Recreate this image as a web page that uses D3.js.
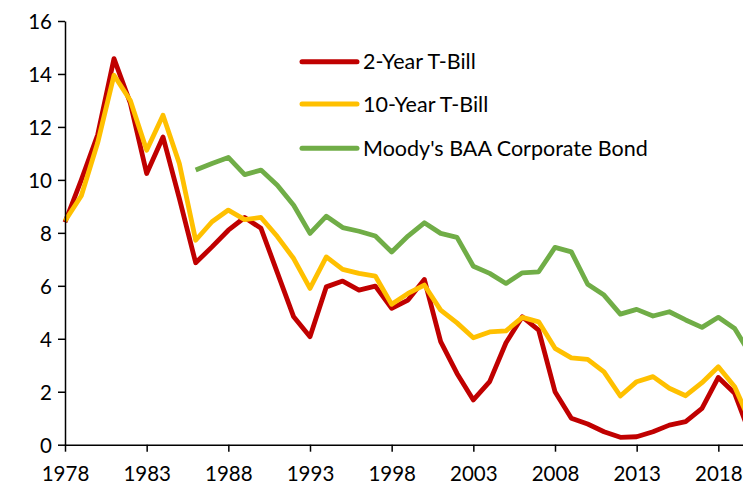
<!DOCTYPE html>
<html>
<head>
<meta charset="utf-8">
<script src="https://cdn.jsdelivr.net/npm/d3@7"></script>
<style>
  body { margin: 0; background: #fff; }
  svg { display: block; font-family: Lato, "Open Sans", sans-serif; }
</style>
</head>
<body>
<svg id="chart" width="743" height="485"></svg>
<script>
// years 1978..2020 (2020 is cut off by the right edge)
const years = d3.range(1978, 2021);

const twoYear = [8.4, 10.0, 11.7, 14.58, 12.9, 10.24, 11.62, 9.3, 6.87, 7.47,
  8.1, 8.58, 8.17, 6.5, 4.83, 4.08, 5.96, 6.18, 5.84, 5.99,
  5.15, 5.46, 6.24, 3.89, 2.69, 1.69, 2.38, 3.85, 4.83, 4.33,
  2.0, 1.0, 0.78, 0.49, 0.28, 0.3, 0.49, 0.74, 0.87, 1.37,
  2.54, 1.94, 0.3];

const tenYear = [8.45, 9.4, 11.4, 13.95, 13.0, 11.12, 12.44, 10.62, 7.72, 8.42,
  8.86, 8.5, 8.58, 7.86, 7.03, 5.9, 7.09, 6.62, 6.47, 6.37,
  5.3, 5.71, 6.03, 5.08, 4.6, 4.04, 4.26, 4.3, 4.81, 4.64,
  3.64, 3.28, 3.22, 2.75, 1.84, 2.38, 2.57, 2.13, 1.85, 2.34,
  2.94, 2.19, 0.8];

// Moody's series starts in 1986
const baaYears = d3.range(1986, 2021);
const baa = [10.37, 10.62, 10.85, 10.2, 10.37, 9.8, 9.04, 7.98, 8.63, 8.2,
  8.06, 7.88, 7.28, 7.88, 8.38, 7.98, 7.83, 6.74, 6.47, 6.09,
  6.49, 6.53, 7.45, 7.28, 6.06, 5.65, 4.93, 5.11, 4.86, 5.02,
  4.71, 4.43, 4.81, 4.39, 3.38];

const seriesNames = ["2-Year T-Bill", "10-Year T-Bill", "Moody's BAA Corporate Bond"];
const seriesColors = ["#C00000", "#FFC000", "#70AD47"];
const xTicks = d3.range(1978, 2019, 5);
const yTicks = d3.range(0, 17, 2);

const svg = d3.select("#chart");
const margin = { left: 65, top: 21, bottom: 40 };

const xScale = d3.scaleLinear().domain([1978, 2020]).range([margin.left, 751]);
const yScale = d3.scaleLinear().domain([0, 16]).range([444.7, margin.top]);

const series = [
  years.map((y, i) => [y, twoYear[i]]),
  years.map((y, i) => [y, tenYear[i]]),
  baaYears.map((y, i) => [y, baa[i]])
];

const line = d3.line()
  .x(d => xScale(d[0]))
  .y(d => yScale(d[1]));

series.forEach((s, i) => {
  svg.append("path")
    .datum(s)
    .attr("fill", "none")
    .attr("stroke", seriesColors[i])
    .attr("stroke-width", 4.8)
    .attr("stroke-linejoin", "round")
    .attr("d", line);
});

// axes
const yAxis = svg.append("g")
  .attr("transform", `translate(${margin.left},0)`)
  .call(d3.axisLeft(yScale).tickValues(yTicks).tickSize(7).tickPadding(6).tickSizeOuter(0));

const xAxis = svg.append("g")
  .attr("transform", `translate(0,${yScale(0)})`)
  .call(d3.axisBottom(xScale).tickValues(xTicks).tickFormat(d3.format("d"))
    .tickSize(7).tickPadding(15).tickSizeOuter(0));

[yAxis, xAxis].forEach(ax => {
  ax.selectAll("path, line").attr("stroke", "#000").attr("stroke-width", 1.5);
  ax.selectAll("text").attr("fill", "#000").style("font-size", "20.5px")
    .style("font-family", "Lato, 'Open Sans', sans-serif");
});
yAxis.selectAll("text").attr("dy", "0.36em");

// legend
const legendY = [61.7, 104, 148.3];
const legend = svg.append("g");
seriesNames.forEach((name, i) => {
  legend.append("line")
    .attr("x1", 302).attr("x2", 357)
    .attr("y1", legendY[i]).attr("y2", legendY[i])
    .attr("stroke", seriesColors[i])
    .attr("stroke-width", 5)
    .attr("stroke-linecap", "round");
  legend.append("text")
    .attr("x", 363)
    .attr("y", legendY[i])
    .attr("dy", "0.36em")
    .attr("fill", "#000")
    .style("font-size", "21.5px")
    .text(name);
});
</script>
</body>
</html>
